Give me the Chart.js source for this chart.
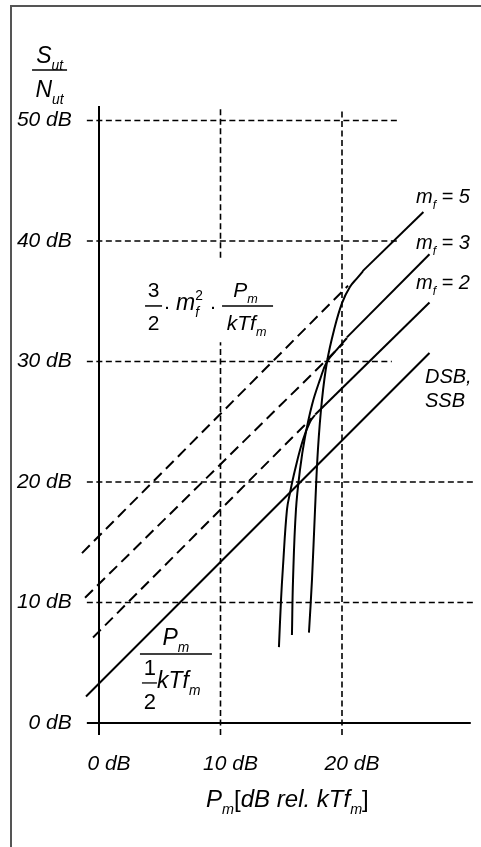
<!DOCTYPE html>
<html>
<head>
<meta charset="UTF-8">
<title>S/N vs Pm</title>
<script src="https://cdn.jsdelivr.net/npm/chart.js@4.4.1/dist/chart.umd.min.js"></script>
<style>
  html, body { margin: 0; padding: 0; background: #fff; }
  #wrap { position: relative; width: 481px; height: 847px; overflow: hidden; }
  #frame { position: absolute; left: 10px; top: 5px; width: 500px; height: 900px;
           border-left: 2px solid #555; border-top: 2px solid #555; }
  #chart { position: absolute; left: 0; top: 0; }
</style>
</head>
<body>
<div id="wrap">
  <div id="frame"></div>
  <canvas id="chart" width="481" height="847"></canvas>
</div>
<script>
// ---- values (x = Pm in dB, y = S/N in dB) ----
const xTicks = [0, 10, 20];
const yTicks = [0, 10, 20, 30, 40, 50];

const yAxisLine = [[0, -1], [0, 51.2]];
const xAxisLine = [[-1, 0], [30.6, 0]];

// dashed horizontal grid: level and right end
const gridLevels = [50, 40, 30, 20, 10];
const gridEnds = [24.8, 24.8, 24.1, 30.9, 30.9];
const gridStart = -1;
// dashed vertical grid pieces
const vGrid10a = [[10, 38.6], [10, 51]];
const vGrid10b = [[10, -1], [10, 31.6]];
const vGrid20 = [[20, -1], [20, 51]];

// 3/2 mf^2 Pm/kTfm asymptotes (dashed part)
const dashM5 = [[-1.40, 14.1], [20.5, 36.3]];
const dashM3 = [[-1.15, 10.4], [20.1, 31.5]];
const dashM2 = [[-0.49, 7.1], [17.5, 25.3]];
// solid parts above threshold
const lineM5 = [[21.7, 37.5], [26.7, 42.4]];
const lineM3 = [[20.4, 32.0], [27.2, 38.9]];
const lineM2 = [[17.8, 25.6], [27.2, 34.9]];
const lineDSB = [[-1.07, 2.2], [27.2, 30.7]];

// threshold curves
const curveM5 = [[17.28, 7.5], [17.53, 11.9], [17.78, 17.7], [18.02, 22.7], [18.35, 26.8],
                 [18.77, 30.0], [19.34, 32.6], [20.0, 34.85], [20.66, 36.2], [21.23, 36.9], [21.73, 37.5]];
const curveM3 = [[15.88, 7.3], [15.97, 11.9], [16.21, 17.7], [16.54, 21.0], [16.95, 23.7],
                 [17.53, 26.4], [18.19, 28.5], [18.77, 30.0], [19.59, 31.0], [20.41, 31.95]];
const curveM2 = [[14.81, 6.3], [14.98, 10.2], [15.14, 12.95], [15.47, 17.7], [15.72, 19.1],
                 [16.13, 21.0], [16.79, 23.5], [17.37, 25.0], [17.78, 25.56]];

const FONT = '"Liberation Sans", Arial, sans-serif';
const pts = a => a.map(p => ({x: p[0], y: p[1]}));

function solid(data, w) {
  return {data: pts(data), showLine: true, borderColor: '#000', borderWidth: w || 2,
          pointRadius: 0, tension: 0, fill: false};
}
function dashed(data, dash, w) {
  return {data: pts(data), showLine: true, borderColor: '#000', borderWidth: w || 2,
          borderDash: dash, pointRadius: 0, tension: 0, fill: false};
}
function curve(data) {
  let d = solid(data, 2);
  d.tension = 0.4;
  return d;
}

let datasets = [];
for (let i = 0; i < gridLevels.length; i++) {
  datasets.push(dashed([[gridStart, gridLevels[i]], [gridEnds[i], gridLevels[i]]], [6, 3.5], 1.6));
}
datasets.push(dashed(vGrid10a, [6, 3.5], 1.6));
datasets.push(dashed(vGrid10b, [6, 3.5], 1.6));
datasets.push(dashed(vGrid20, [6, 3.5], 1.6));
datasets.push(solid(yAxisLine, 2));
datasets.push(solid(xAxisLine, 2));
datasets.push(dashed(dashM5, [11, 6]));
datasets.push(dashed(dashM3, [11, 6]));
datasets.push(dashed(dashM2, [11, 6]));
datasets.push(solid(lineM5));
datasets.push(solid(lineM3));
datasets.push(solid(lineM2));
datasets.push(solid(lineDSB));
datasets.push(curve(curveM5));
datasets.push(curve(curveM3));
datasets.push(curve(curveM2));

// ---- text helpers ----
function fnt(size, italic) { return (italic ? 'italic ' : '') + size + 'px ' + FONT; }
// run: {t, i (italic), k: 'sub'|'sup', n: no advance}
function runsWidth(ctx, runs, size) {
  let w = 0;
  runs.forEach(r => {
    ctx.font = fnt(r.k ? size * 0.6 : size, r.i);
    if (!r.n) w += ctx.measureText(r.t).width;
  });
  return w;
}
function drawRuns(ctx, runs, x, y, size) {
  let cx = x;
  runs.forEach(r => {
    let s = r.k ? size * 0.6 : size;
    ctx.font = fnt(s, r.i);
    let dy = r.k === 'sub' ? size * 0.3 : (r.k === 'sup' ? -size * 0.42 : 0);
    ctx.fillText(r.t, cx, y + dy);
    if (!r.n) cx += ctx.measureText(r.t).width;
  });
}
function drawCentered(ctx, runs, cx, y, size) {
  drawRuns(ctx, runs, cx - runsWidth(ctx, runs, size) / 2, y, size);
}
function bar(ctx, x1, x2, y, w) {
  ctx.beginPath();
  ctx.lineWidth = w || 1.5;
  ctx.moveTo(x1, y);
  ctx.lineTo(x2, y);
  ctx.stroke();
}

const labels = {
  id: 'labels',
  afterDatasetsDraw(chart) {
    const ctx = chart.ctx;
    const X = v => chart.scales.x.getPixelForValue(v);
    const Y = v => chart.scales.y.getPixelForValue(v);
    ctx.save();
    ctx.fillStyle = '#000';
    ctx.strokeStyle = '#000';
    ctx.textBaseline = 'alphabetic';
    ctx.textAlign = 'left';

    // S_ut / N_ut
    let cx = X(-4.07), by = Y(54.19);
    bar(ctx, cx - 17.5, cx + 17.5, by, 1.5);
    drawCentered(ctx, [{t: 'S', i: true}, {t: 'ut', i: true, k: 'sub'}], cx, by - 7, 23);
    drawCentered(ctx, [{t: 'N', i: true}, {t: 'ut', i: true, k: 'sub'}], cx, by + 27, 23);

    // 3/2 . mf^2 . Pm / kTfm
    let lx = X(3.79);
    by = Y(34.61);
    bar(ctx, lx, lx + 17, by, 1.5);
    drawCentered(ctx, [{t: '3'}], lx + 8.5, by - 9, 21);
    drawCentered(ctx, [{t: '2'}], lx + 8.5, by + 24, 21);
    drawCentered(ctx, [{t: '·'}], lx + 22, by + 7, 21);
    drawRuns(ctx, [{t: 'm', i: true}, {t: '2', k: 'sup', n: true}, {t: 'f', i: true, k: 'sub'}], lx + 31, by + 4, 23);
    drawCentered(ctx, [{t: '·'}], lx + 68, by + 7, 21);
    bar(ctx, lx + 77, lx + 128, by, 1.5);
    drawCentered(ctx, [{t: 'P', i: true}, {t: 'm', i: true, k: 'sub'}], lx + 100.5, by - 9, 21);
    drawCentered(ctx, [{t: 'kTf', i: true}, {t: 'm', i: true, k: 'sub'}], lx + 101.5, by + 24, 21);

    // Pm / (1/2 kTfm)
    lx = X(3.37);
    by = Y(5.73);
    bar(ctx, lx, lx + 72, by, 1.5);
    drawCentered(ctx, [{t: 'P', i: true}, {t: 'm', i: true, k: 'sub'}], lx + 36, by - 9, 23);
    drawCentered(ctx, [{t: '1'}], lx + 10, by + 21, 22);
    bar(ctx, lx + 2, lx + 17, by + 29, 1.3);
    drawCentered(ctx, [{t: '2'}], lx + 10, by + 55, 22);
    drawRuns(ctx, [{t: 'kTf', i: true}, {t: 'm', i: true, k: 'sub'}], lx + 17, by + 34, 23);

    // mf labels
    const mf = v => [{t: 'm', i: true}, {t: 'f', i: true, k: 'sub'}, {t: ' = ' + v, i: true}];
    drawRuns(ctx, mf(5), X(26.09), Y(43.15), 20);
    drawRuns(ctx, mf(3), X(26.09), Y(39.34), 20);
    drawRuns(ctx, mf(2), X(26.09), Y(36.02), 20);

    // DSB, SSB
    drawRuns(ctx, [{t: 'DSB,', i: true}], X(26.83), Y(28.22), 20);
    drawRuns(ctx, [{t: 'SSB', i: true}], X(26.83), Y(26.22), 20);

    // x title
    drawCentered(ctx, [{t: 'P', i: true}, {t: 'm', i: true, k: 'sub'}, {t: '['},
                       {t: 'dB rel. kTf', i: true}, {t: 'm', i: true, k: 'sub'}, {t: ']'}],
                 X(15.51), Y(-6.97), 24);
    ctx.restore();
  }
};

const tickFont = {family: FONT, size: 21, style: 'italic'};

new Chart(document.getElementById('chart'), {
  type: 'scatter',
  data: {datasets: datasets},
  options: {
    responsive: false,
    animation: false,
    events: [],
    layout: {padding: {top: 96.4, right: 5.35, bottom: 0, left: 0}},
    plugins: {legend: {display: false}, tooltip: {enabled: false}},
    scales: {
      x: {
        type: 'linear', min: -1.5, max: 31,
        grid: {display: false, drawTicks: false},
        border: {display: false},
        afterBuildTicks: s => { s.ticks = xTicks.map(v => ({value: v})); },
        afterFit: s => { s.height = 105.925; },
        ticks: {font: tickFont, color: '#000', padding: 10, labelOffset: 10, maxRotation: 0,
                callback: v => v + ' dB'}
      },
      y: {
        type: 'linear', min: -1.5, max: 52,
        grid: {display: false, drawTicks: false},
        border: {display: false},
        afterBuildTicks: s => { s.ticks = yTicks.map(v => ({value: v})); },
        afterFit: s => { s.width = 80.775; },
        ticks: {font: tickFont, color: '#000', padding: 9, callback: v => v + ' dB'}
      }
    }
  },
  plugins: [labels]
});
</script>
</body>
</html>
